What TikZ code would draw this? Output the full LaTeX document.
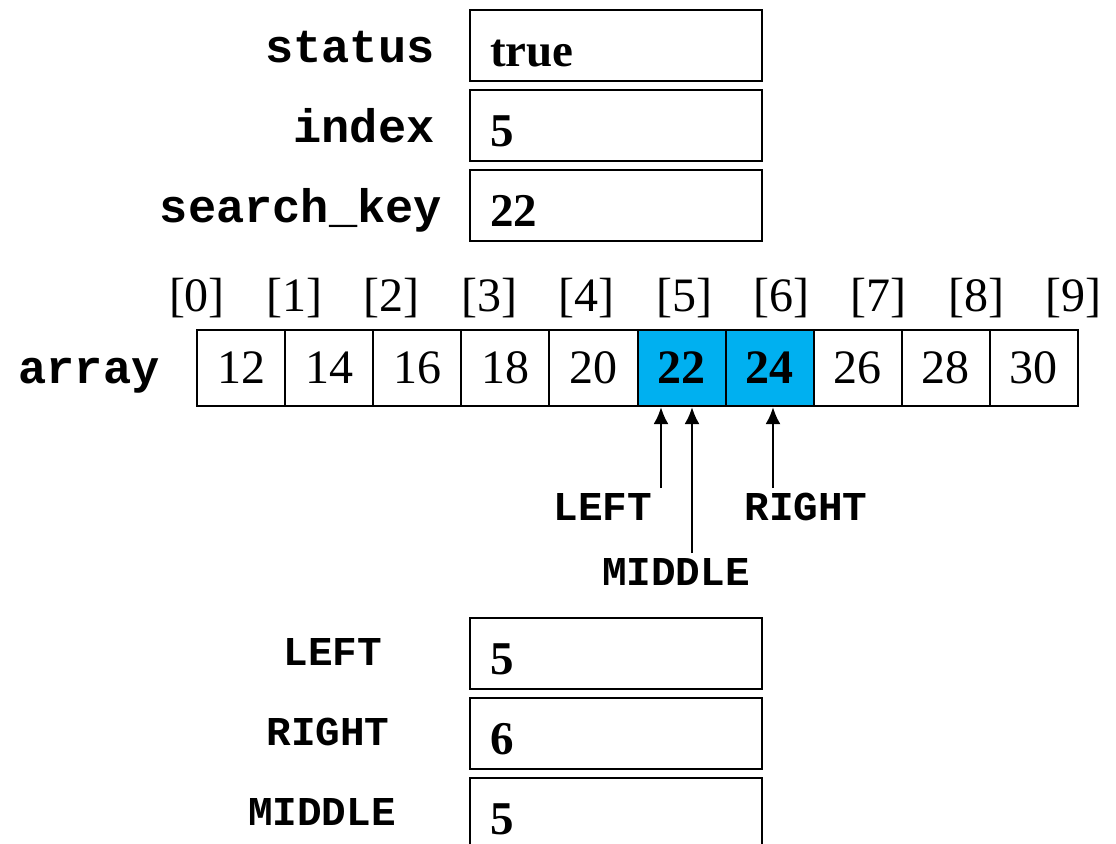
\documentclass[tikz,border=0pt]{standalone}
\usepackage{fontspec}
\setmainfont{Liberation Serif}
\setmonofont{Liberation Mono}
\usetikzlibrary{arrows.meta}
\definecolor{hotcell}{RGB}{0,176,240}

\tikzset{
  varname/.style={font=\ttfamily\bfseries\fontsize{23.5}{28}\selectfont, inner sep=0pt, anchor=base},
  ptrname/.style={font=\ttfamily\bfseries\fontsize{20.5}{24}\selectfont, inner sep=0pt, anchor=base},
  valbox/.style={draw, line width=1pt, anchor=north west, minimum width=146pt, minimum height=35.5pt,
    text width=126pt, inner xsep=10pt, inner ysep=0pt, text height=28pt, text depth=7.5pt,
    align=left, font=\bfseries\fontsize{23.5}{28}\selectfont},
  cell/.style={draw, line width=1pt, minimum width=44.05pt, minimum height=38pt, inner sep=0pt,
    font=\fontsize{24}{28}\selectfont},
  hot/.style={cell, fill=hotcell, font=\bfseries\fontsize{24}{28}\selectfont},
  idx/.style={inner sep=0pt, anchor=base, font=\fontsize{24}{28}\selectfont},
  ptr/.style={line width=1.3pt, -{Latex[length=8.5pt,width=7.5pt]}}
}

\begin{document}
\begin{tikzpicture}[x=0.5pt, y=-0.5pt]
    \useasboundingbox (0,0) rectangle (1116,843);

    % variables
    \node[varname] (statuslbl) at (350,62) {status};
    \node[varname] (indexlbl) at (364,142) {index};
    \node[varname] (keylbl) at (301,222) {search\_key};
    \node[valbox] (status) at (469,9) {true};
    \node[valbox] (index) at (469,89) {5};
    \node[valbox] (key) at (469,169) {22};

    % the array
    \node[varname] (arraylbl) at (89,383) {array};
    \foreach \i/\v/\s in {0/12/cell,1/14/cell,2/16/cell,3/18/cell,4/20/cell,
                          5/22/hot,6/24/hot,7/26/cell,8/28/cell,9/30/cell}
        \node[\s] (c\i) at ({241.05+88.1*\i},368) {\v};
    \foreach \i in {0,...,9}
        \node[idx] (i\i) at ({197+97.4*\i},311) {[\i]};

    % pointers
    \node[ptrname] (leftlbl) at (603,520) {LEFT};
    \node[ptrname] (rightlbl) at (806,520) {RIGHT};
    \node[ptrname] (midlbl) at (676,585) {MIDDLE};
    \coordinate (lefttail) at (661,488);
    \coordinate (midtail) at (692,553);
    \coordinate (righttail) at (773,488);
    \draw[ptr] (lefttail) -- (lefttail |- c5.south);
    \draw[ptr] (midtail) -- (midtail |- c5.south);
    \draw[ptr] (righttail) -- (righttail |- c6.south);

    % pointer values
    \node[ptrname] (leftname) at (333,665) {LEFT};
    \node[ptrname] (rightname) at (328,745) {RIGHT};
    \node[ptrname] (midname) at (322,825) {MIDDLE};
    \node[valbox] (leftval) at (469,617) {5};
    \node[valbox] (rightval) at (469,697) {6};
    \node[valbox] (midval) at (469,777) {5};
\end{tikzpicture}
\end{document}
